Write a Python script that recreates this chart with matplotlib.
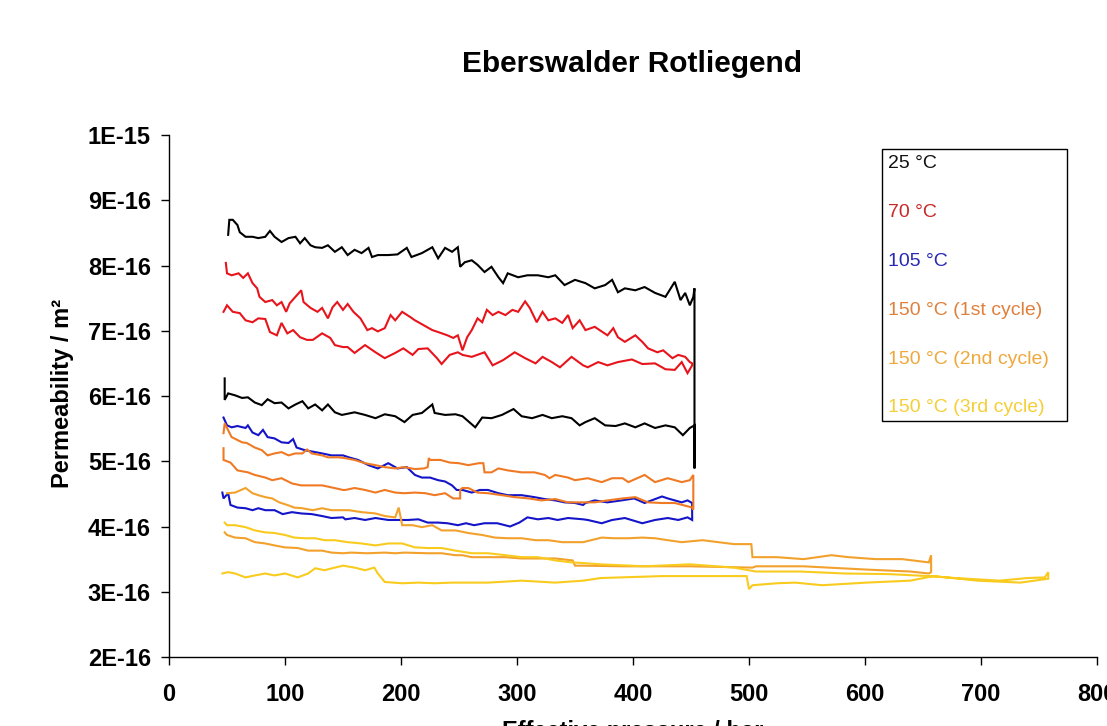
import matplotlib
matplotlib.use("Agg")
import matplotlib.pyplot as plt
from matplotlib.patches import Rectangle

plt.rcParams['font.family'] = ['Liberation Sans', 'DejaVu Sans']

# permeability values in units of 1e-16 m^2, pressure in bar
UNIT = 1e-16

# 25 °C: loading branch, then unloading branch
BLACK_UP = [(51,8.47),(52,8.70),(55,8.70),(59,8.62),(61,8.51),(66,8.44),(72,8.44),(77,8.42),
            (83,8.44),(87,8.53),(91,8.44),(97,8.36),(103,8.42),(109,8.44),(113,8.34),(117,8.42),
            (122,8.31),(126,8.28),(132,8.27),(137,8.31),(143,8.21),(149,8.28),(154,8.16),(160,8.24),
            (166,8.19),(172,8.27),(175,8.13),(180,8.16),(189,8.16),(197,8.17),(205,8.27),(209,8.13),
            (218,8.19),(227,8.28),(232,8.11),(238,8.27),(244,8.21),(249,8.28),(251,7.98),(255,8.05),
            (261,8.08),(266,8.01),(272,7.90),(278,7.98),(284,7.82),(288,7.73),(292,7.88),(301,7.82),
            (309,7.85),(318,7.85),(327,7.82),(333,7.85),(341,7.70),(350,7.78),(359,7.73),(367,7.65),
            (376,7.70),(382,7.78),(387,7.59),(393,7.65),(402,7.62),(410,7.67),(419,7.58),(428,7.52),
            (436,7.75),(441,7.47),(445,7.58),(449,7.39),(452,7.52),(453,7.65),(453,4.89)]
BLACK_DOWN = [(48,6.27),(48,5.94),(51,6.04),(57,6.01),(63,5.97),(68,5.98),(74,5.90),(80,5.86),
              (85,5.95),(91,5.89),(97,5.90),(103,5.81),(109,5.87),(115,5.92),(120,5.81),(126,5.87),
              (132,5.78),(137,5.87),(143,5.75),(149,5.71),(152,5.72),(160,5.75),(169,5.71),(178,5.66),
              (186,5.72),(195,5.69),(203,5.60),(210,5.71),(218,5.74),(227,5.87),(229,5.74),(238,5.71),
              (247,5.72),(253,5.69),(264,5.52),(270,5.67),(278,5.66),(287,5.71),(297,5.80),(304,5.69),
              (313,5.66),(322,5.71),(330,5.66),(339,5.69),(347,5.66),(354,5.55),(359,5.60),(367,5.66),
              (376,5.55),(385,5.54),(393,5.58),(402,5.52),(410,5.58),(419,5.51),(428,5.55),(436,5.52),
              (443,5.40),(449,5.51),(453,5.55)]

# 70 °C
RED_UP = [(49,8.04),(50,7.88),(54,7.85),(60,7.88),(64,7.81),(68,7.88),(72,7.73),(76,7.65),(78,7.52),
          (83,7.44),(89,7.47),(93,7.39),(97,7.44),(101,7.29),(104,7.42),(109,7.52),(114,7.62),(116,7.44),
          (122,7.35),(128,7.29),(132,7.35),(137,7.19),(141,7.36),(145,7.44),(150,7.32),(154,7.41),
          (159,7.29),(165,7.19),(171,7.01),(175,7.04),(180,6.99),(186,7.04),(191,7.24),(195,7.16),
          (201,7.29),(208,7.21),(212,7.16),(219,7.09),(227,7.01),(232,6.98),(240,6.93),(245,6.89),
          (249,6.93),(253,6.70),(257,6.90),(261,7.01),(266,7.19),(270,7.13),(274,7.32),(279,7.24),
          (284,7.29),(290,7.24),(296,7.32),(301,7.29),(307,7.45),(311,7.35),(317,7.13),(322,7.29),
          (327,7.16),(333,7.19),(339,7.12),(344,7.24),(348,7.04),(354,7.16),(359,7.01),(367,7.06),
          (378,6.93),(383,7.04),(387,6.90),(393,6.83),(402,6.93),(408,6.83),(413,6.73),(421,6.67),
          (426,6.70),(434,6.58),(439,6.63),(445,6.60),(449,6.52),(451,6.50)]
RED_DOWN = [(47,7.29),(50,7.39),(55,7.29),(61,7.27),(66,7.16),(72,7.13),(77,7.19),(83,7.18),(87,6.98),
            (93,6.93),(97,7.12),(102,6.96),(107,7.01),(113,6.90),(119,6.86),(124,6.86),(132,6.96),
            (139,6.89),(143,6.78),(150,6.75),(154,6.75),(160,6.66),(169,6.78),(178,6.67),(186,6.58),
            (195,6.66),(202,6.73),(210,6.63),(215,6.72),(223,6.73),(231,6.58),(235,6.49),(242,6.63),
            (249,6.67),(253,6.63),(261,6.60),(272,6.67),(279,6.47),(288,6.55),(298,6.67),(307,6.58),
            (316,6.50),(322,6.60),(330,6.52),(337,6.44),(347,6.60),(357,6.47),(361,6.44),(370,6.52),
            (378,6.47),(387,6.52),(399,6.56),(408,6.49),(419,6.50),(428,6.41),(436,6.40),(442,6.52),
            (447,6.35),(451,6.47)]

# 105 °C
BLUE_UP = [(47,5.67),(50,5.55),(54,5.52),(59,5.54),(66,5.51),(68,5.55),(72,5.44),(77,5.40),(81,5.48),
           (85,5.37),(91,5.35),(97,5.29),(103,5.28),(107,5.34),(110,5.21),(117,5.17),(126,5.14),
           (132,5.12),(140,5.09),(150,5.09),(155,5.06),(163,5.02),(172,4.94),(180,4.89),(189,4.97),
           (197,4.89),(205,4.91),(212,4.79),(218,4.75),(225,4.75),(232,4.71),(238,4.69),(244,4.63),
           (248,4.56),(253,4.56),(261,4.52),(268,4.56),(275,4.56),(284,4.51),(292,4.48),(304,4.48),
           (315,4.45),(324,4.42),(333,4.40),(341,4.37),(350,4.36),(357,4.33),(359,4.36),(367,4.40),
           (378,4.37),(390,4.40),(401,4.43),(410,4.36),(419,4.42),(425,4.46),(430,4.43),(436,4.40),
           (442,4.37),(447,4.40),(451,4.36)]
BLUE_DOWN = [(46,4.52),(47,4.43),(51,4.51),(53,4.33),(59,4.29),(66,4.28),(72,4.25),(77,4.28),(83,4.25),
             (91,4.25),(98,4.19),(106,4.22),(114,4.20),(123,4.19),(132,4.16),(140,4.13),(150,4.14),
             (152,4.11),(160,4.13),(169,4.10),(178,4.13),(189,4.10),(197,4.10),(206,4.10),(215,4.11),
             (223,4.06),(232,4.06),(240,4.05),(249,4.02),(256,4.05),(263,4.02),(272,4.05),(283,4.05),
             (294,4.00),(302,4.06),(309,4.14),(318,4.11),(327,4.13),(335,4.10),(344,4.13),(357,4.11),
             (361,4.10),(373,4.05),(382,4.10),(393,4.13),(408,4.05),(419,4.10),(430,4.13),(439,4.10),
             (447,4.14),(451,4.10)]

# 150 °C, 1st cycle
OR1_UP = [(47,5.43),(48,5.58),(54,5.37),(63,5.29),(67,5.28),(74,5.21),(80,5.17),(85,5.09),(91,5.12),
          (97,5.14),(103,5.09),(109,5.12),(115,5.12),(119,5.18),(123,5.12),(132,5.09),(137,5.06),
          (146,5.06),(151,5.05),(160,5.02),(169,4.97),(178,4.94),(186,4.91),(195,4.89),(203,4.91),
          (212,4.88),(220,4.89),(223,4.91),(224,5.05),(225,5.02),(234,5.02),(242,4.98),(250,4.97),
          (258,4.94),(267,4.97),(271,4.97),(272,4.83),(278,4.83),(284,4.89),(292,4.86),(304,4.83),
          (315,4.83),(324,4.79),(328,4.74),(333,4.79),(344,4.75),(350,4.71),(361,4.74),(373,4.68),
          (382,4.74),(391,4.74),(396,4.68),(410,4.79),(419,4.68),(430,4.74),(442,4.68),(449,4.71),
          (452,4.79),(452,4.26)]
OR1_DOWN = [(47,5.20),(47,5.02),(53,4.98),(59,4.86),(68,4.83),(74,4.79),(83,4.75),(89,4.71),(97,4.74),
            (106,4.66),(114,4.63),(123,4.63),(132,4.63),(140,4.60),(150,4.56),(152,4.56),(160,4.59),
            (169,4.56),(178,4.52),(186,4.56),(195,4.52),(203,4.51),(212,4.52),(221,4.51),(229,4.48),
            (238,4.51),(245,4.43),(251,4.43),(251,4.56),(253,4.59),(258,4.59),(266,4.52),(275,4.51),
            (287,4.48),(298,4.45),(310,4.43),(321,4.40),(333,4.42),(344,4.37),(357,4.37),(367,4.37),
            (378,4.40),(391,4.43),(402,4.45),(413,4.37),(425,4.36),(436,4.36),(447,4.31),(451,4.29)]

# 150 °C, 2nd cycle
OR2_UP = [(50,4.51),(57,4.52),(66,4.59),(72,4.51),(77,4.48),(83,4.45),(89,4.43),(95,4.37),(102,4.33),
          (108,4.29),(115,4.28),(124,4.25),(132,4.28),(140,4.25),(150,4.25),(155,4.25),(166,4.22),
          (178,4.20),(186,4.16),(195,4.14),(198,4.29),(201,4.02),(210,4.02),(218,3.99),(227,4.02),
          (235,3.94),(247,3.94),(258,3.90),(270,3.87),(281,3.83),(292,3.82),(304,3.82),(316,3.79),
          (327,3.79),(339,3.76),(357,3.76),(373,3.83),(384,3.82),(396,3.82),(408,3.83),(419,3.82),
          (430,3.79),(442,3.76),(460,3.79),(487,3.73),(502,3.73),(503,3.53),(524,3.53),(547,3.50),
          (571,3.56),(586,3.53),(609,3.50),(632,3.50),(655,3.45),(657,3.56),(657,3.30)]
OR2_DOWN = [(48,3.91),(50,3.87),(57,3.83),(66,3.82),(74,3.76),(83,3.74),(91,3.71),(100,3.68),(111,3.67),
            (120,3.63),(132,3.63),(140,3.60),(150,3.59),(157,3.60),(171,3.59),(186,3.60),(195,3.59),
            (203,3.60),(223,3.59),(235,3.59),(247,3.56),(253,3.56),(261,3.53),(275,3.53),(290,3.53),
            (304,3.51),(318,3.51),(333,3.51),(348,3.48),(350,3.40),(357,3.40),(391,3.39),(449,3.39),
            (503,3.37),(506,3.39),(547,3.39),(601,3.34),(639,3.31),(655,3.28)]

# 150 °C, 3rd cycle
OR3_UP = [(48,4.06),(50,4.02),(57,4.02),(66,3.99),(74,3.94),(83,3.91),(91,3.90),(100,3.87),(108,3.83),
          (117,3.82),(126,3.82),(134,3.79),(143,3.79),(154,3.76),(166,3.74),(178,3.71),(189,3.74),
          (201,3.74),(212,3.68),(223,3.67),(235,3.67),(247,3.63),(261,3.59),(275,3.59),(290,3.56),
          (304,3.53),(318,3.53),(333,3.48),(347,3.45),(357,3.44),(372,3.42),(410,3.39),(449,3.42),
          (487,3.37),(506,3.31),(544,3.31),(582,3.28),(621,3.27),(655,3.24),(678,3.21),(716,3.17),
          (740,3.21),(755,3.22),(758,3.30)]
OR3_DOWN = [(46,3.28),(51,3.30),(57,3.28),(66,3.22),(74,3.25),(83,3.28),(91,3.25),(100,3.28),(111,3.22),
            (120,3.28),(126,3.36),(134,3.33),(143,3.37),(150,3.40),(160,3.37),(169,3.33),(177,3.37),
            (180,3.28),(186,3.15),(201,3.13),(215,3.14),(229,3.13),(244,3.14),(258,3.14),(275,3.14),
            (304,3.17),(333,3.14),(357,3.17),(372,3.21),(425,3.24),(479,3.24),(498,3.24),(500,3.04),
            (503,3.10),(524,3.13),(540,3.14),(563,3.10),(601,3.14),(639,3.17),(659,3.24),(697,3.17),
            (734,3.14),(758,3.20)]

LEGEND_LABELS = ['25 °C', '70 °C', '105 °C', '150 °C (1st cycle)', '150 °C (2nd cycle)', '150 °C (3rd cycle)']
LINE_COLORS = ['#000000', '#E8141C', '#1414C8', '#F07A24', '#F2A12C', '#F8CB1E']
TEXT_COLORS = ['#111111', '#C82828', '#2828B4', '#E0803C', '#EFA83C', '#F5CF38']
SERIES = [(BLACK_UP, BLACK_DOWN), (RED_UP, RED_DOWN), (BLUE_UP, BLUE_DOWN),
          (OR1_UP, OR1_DOWN), (OR2_UP, OR2_DOWN), (OR3_UP, OR3_DOWN)]

X_TICKS = [0, 100, 200, 300, 400, 500, 600, 700, 800]
Y_TICK_VALUES = [10, 9, 8, 7, 6, 5, 4, 3, 2]
Y_TICK_LABELS = ['1E-15', '9E-16', '8E-16', '7E-16', '6E-16', '5E-16', '4E-16', '3E-16', '2E-16']

W, H = 1107, 726
fig = plt.figure(figsize=(W / 100, H / 100), dpi=100)
ax = fig.add_axes([169 / W, 1 - 657 / H, (1097 - 169) / W, (657 - 135) / H])

for (up, down), col in zip(SERIES, LINE_COLORS):
    pts = up + down[::-1]
    ax.plot([p[0] for p in pts], [p[1] * UNIT for p in pts], color=col, lw=1.5, solid_joinstyle='miter')

ax.set_xlim(0, 800)
ax.set_ylim(2 * UNIT, 10 * UNIT)
ax.set_xticks(X_TICKS)
ax.set_yticks([v * UNIT for v in Y_TICK_VALUES])
ax.set_yticklabels(Y_TICK_LABELS)
for s in ['top', 'right']:
    ax.spines[s].set_visible(False)
for s in ['left', 'bottom']:
    ax.spines[s].set_linewidth(1.0)
ax.tick_params(axis='both', direction='out', length=6, width=1, labelsize=17)
ax.tick_params(axis='x', pad=13)
ax.tick_params(axis='y', pad=7)
for lbl in ax.get_xticklabels() + ax.get_yticklabels():
    lbl.set_fontweight('bold')

fig.text(632 / W, 1 - 64 / H, 'Eberswalder Rotliegend', ha='center', va='center',
         fontsize=21.5, fontweight='bold')
fig.text(62 / W, 1 - 393 / H, 'Permeability / m²', ha='center', va='center', rotation=90,
         fontsize=17, fontweight='bold')
fig.text(633 / W, 1 - 720 / H, 'Effective pressure / bar', ha='center', va='top',
         fontsize=17, fontweight='bold')

# legend box with coloured text entries
fig.add_artist(Rectangle((882 / W, 1 - 421 / H), (1067 - 882) / W, (421 - 149) / H,
                         transform=fig.transFigure, fill=False, edgecolor='black', lw=1.0))
for i, (lab, tc) in enumerate(zip(LEGEND_LABELS, TEXT_COLORS)):
    fig.text(888 / W, 1 - (164 + i * 48.8) / H, lab, ha='left', va='center',
             fontsize=14, color=tc)

fig.savefig('out.png', dpi=100)
